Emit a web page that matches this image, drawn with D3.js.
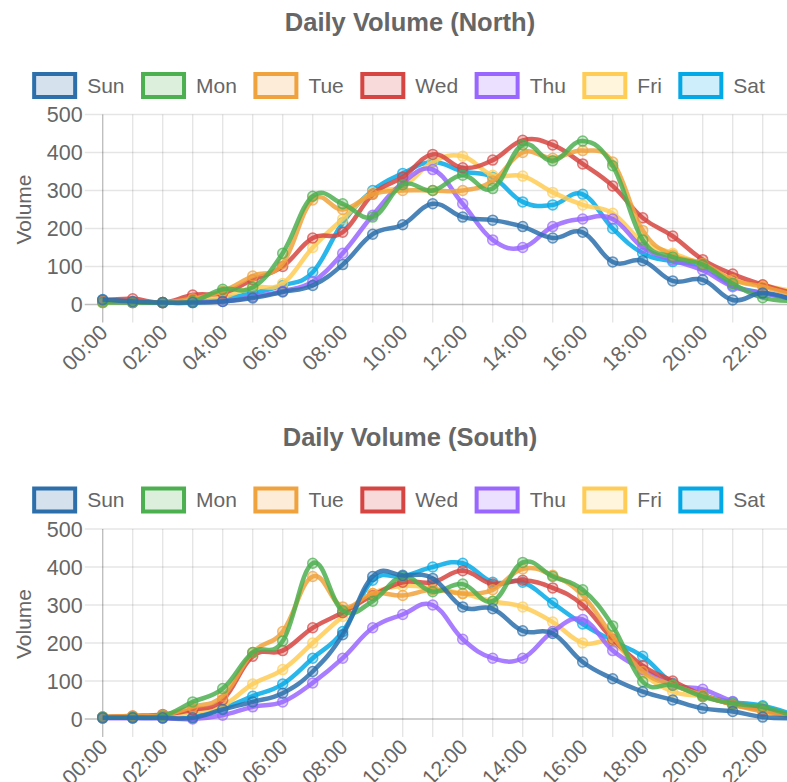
<!DOCTYPE html>
<html>
<head>
<meta charset="utf-8">
<script src="https://cdn.jsdelivr.net/npm/d3@7"></script>
<style>
  html, body { margin: 0; padding: 0; background: #fff; overflow: hidden; }
  text { font-family: "Liberation Sans", Arial, sans-serif; fill: #666; }
</style>
</head>
<body>
<div id="viz"></div>
<script>
// hour labels on the x axis
var hours = ["00:00","01:00","02:00","03:00","04:00","05:00","06:00","07:00","08:00","09:00","10:00","11:00",
             "12:00","13:00","14:00","15:00","16:00","17:00","18:00","19:00","20:00","21:00","22:00","23:00"];
var days = ["Sun", "Mon", "Tue", "Wed", "Thu", "Fri", "Sat"];
var dayColors = ["#2c6fab", "#4caf50", "#f0a23c", "#d64541", "#9966ff", "#ffcd56", "#03a9e6"];
var yTicks = [0, 100, 200, 300, 400, 500];

// North
var northSun = [13, 8, 5, 5, 8, 17, 33, 50, 105, 185, 210, 265, 230, 222, 205, 175, 190, 112, 115, 62, 65, 12, 30, 12];
var northMon = [5, 5, 5, 8, 40, 45, 135, 285, 265, 230, 315, 300, 340, 305, 420, 378, 430, 365, 170, 125, 105, 55, 18, 10];
var northTue = [8, 6, 5, 15, 35, 75, 108, 275, 250, 290, 300, 300, 300, 325, 400, 385, 405, 375, 195, 130, 108, 65, 47, 25];
var northWed = [10, 15, 5, 25, 30, 65, 100, 175, 190, 290, 335, 395, 360, 380, 432, 420, 370, 312, 228, 180, 118, 80, 52, 30];
var northThu = [8, 5, 5, 8, 8, 20, 35, 60, 135, 235, 320, 355, 265, 170, 150, 205, 225, 225, 150, 117, 90, 47, 30, 15];
var northFri = [5, 5, 5, 8, 20, 45, 55, 150, 225, 295, 310, 375, 390, 340, 338, 295, 262, 240, 165, 135, 104, 65, 51, 35];
var northSat = [12, 6, 5, 5, 15, 30, 50, 85, 215, 300, 345, 375, 350, 335, 270, 262, 290, 200, 135, 113, 100, 50, 31, 15];

// South
var southSun = [3, 3, 3, 3, 25, 45, 68, 125, 222, 375, 378, 370, 295, 290, 232, 225, 150, 106, 72, 50, 28, 20, 5, 2];
var southMon = [5, 5, 8, 45, 80, 175, 205, 410, 285, 310, 375, 335, 355, 310, 412, 375, 340, 245, 98, 89, 59, 41, 32, 8];
var southTue = [5, 8, 10, 32, 60, 175, 230, 375, 295, 330, 325, 340, 330, 340, 395, 378, 325, 218, 125, 89, 63, 38, 20, 6];
var southWed = [5, 8, 12, 24, 50, 165, 180, 240, 280, 325, 360, 360, 390, 355, 365, 345, 300, 210, 140, 100, 63, 38, 24, 8];
var southThu = [2, 2, 2, 0, 10, 32, 45, 95, 160, 240, 275, 300, 210, 160, 160, 230, 262, 180, 130, 89, 78, 46, 24, 6];
var southFri = [5, 5, 5, 19, 35, 92, 130, 200, 270, 330, 350, 344, 330, 310, 295, 255, 200, 200, 120, 72, 59, 38, 20, 6];
var southSat = [3, 3, 3, 5, 28, 60, 92, 160, 230, 365, 375, 400, 410, 360, 360, 305, 250, 205, 165, 94, 63, 45, 35, 12];

var svg = d3.select("#viz").append("svg").attr("width", 820).attr("height", 782);

var x = d3.scalePoint().domain(hours).range([102.7, 792.7]);
var tickLen = 18;

function drawPanel(top, title, series, clipId) {
  var g = svg.append("g").attr("transform", "translate(0," + top + ")");
  var y = d3.scaleLinear().domain([0, 500]).range([304.5, 114.5]);

  g.append("text").attr("x", 410).attr("y", 31)
    .attr("text-anchor", "middle").style("font-size", "25.5px").style("font-weight", "bold")
    .text(title);

  // legend
  var leg = g.append("g");
  var items = leg.selectAll("g").data(days).enter().append("g");
  items.append("rect").attr("x", 2).attr("y", -11.5).attr("width", 41).attr("height", 23)
    .attr("fill", function(d, i) { return dayColors[i]; }).attr("fill-opacity", 0.2)
    .attr("stroke", function(d, i) { return dayColors[i]; }).attr("stroke-width", 4);
  items.append("text").attr("x", 55).attr("y", 0).attr("dy", "0.35em")
    .style("font-size", "21px").text(function(d) { return d; });
  var pos = 0, offs = [];
  items.each(function() {
    offs.push(pos);
    pos += 55 + this.querySelector("text").getComputedTextLength() + 16.5;
  });
  var total = pos - 16.5;
  var lx = 398.5 - total / 2;
  items.attr("transform", function(d, i) { return "translate(" + (lx + offs[i]) + ",85.5)"; });

  // grid
  g.append("g").selectAll("line").data(yTicks).enter().append("line")
    .attr("x1", x(hours[0]) - tickLen).attr("x2", 820)
    .attr("y1", function(d) { return y(d); }).attr("y2", function(d) { return y(d); })
    .attr("stroke", function(d) { return d === 0 ? "rgba(0,0,0,0.25)" : "rgba(0,0,0,0.1)"; })
    .attr("stroke-width", 1.4);
  g.append("g").selectAll("line").data(hours).enter().append("line")
    .attr("x1", function(d) { return x(d); }).attr("x2", function(d) { return x(d); })
    .attr("y1", y(500)).attr("y2", y(0) + tickLen)
    .attr("stroke", function(d, i) { return i === 0 ? "rgba(0,0,0,0.25)" : "rgba(0,0,0,0.1)"; })
    .attr("stroke-width", 1.4);

  // y tick labels
  g.append("g").selectAll("text").data(yTicks).enter().append("text")
    .attr("x", x(hours[0]) - tickLen - 2).attr("y", function(d) { return y(d); })
    .attr("dy", "0.35em").attr("text-anchor", "end").style("font-size", "21.5px")
    .text(function(d) { return d; });

  // x tick labels, every second hour
  g.append("g").selectAll("text").data(hours.filter(function(d, i) { return i % 2 === 0; }))
    .enter().append("text")
    .attr("transform", function(d) { return "translate(" + (x(d) + 1) + "," + (y(0) + 24) + ") rotate(-45)"; })
    .attr("text-anchor", "end").attr("dy", "0.35em").style("font-size", "21.5px")
    .text(function(d) { return d; });

  g.append("text").attr("transform", "translate(31,209.5) rotate(-90)")
    .attr("text-anchor", "middle").style("font-size", "21px").text("Volume");

  g.append("clipPath").attr("id", clipId).append("rect")
    .attr("x", x(hours[0]) - 8).attr("y", y(500) - 8).attr("width", 720).attr("height", 205);

  var line = d3.line()
    .x(function(d, i) { return x(hours[i]); })
    .y(function(d) { return y(d); })
    .curve(d3.curveCardinal.tension(-0.2));

  var plot = g.append("g").attr("clip-path", "url(#" + clipId + ")");
  // last dataset drawn first so Sun ends up on top
  for (var k = series.length - 1; k >= 0; k--) {
    var c = dayColors[k];
    plot.append("path").datum(series[k]).attr("d", line)
      .attr("fill", "none").attr("stroke", c).attr("stroke-width", 4.5)
      .attr("stroke-opacity", 0.85).attr("stroke-linejoin", "round");
    plot.append("g").selectAll("circle").data(series[k]).enter().append("circle")
      .attr("cx", function(d, i) { return x(hours[i]); })
      .attr("cy", function(d) { return y(d); })
      .attr("r", 5)
      .attr("fill", c).attr("fill-opacity", 0.3)
      .attr("stroke", c).attr("stroke-opacity", 0.7).attr("stroke-width", 1.5);
  }
}

drawPanel(0, "Daily Volume (North)", [northSun, northMon, northTue, northWed, northThu, northFri, northSat], "clipN");
drawPanel(414.5, "Daily Volume (South)", [southSun, southMon, southTue, southWed, southThu, southFri, southSat], "clipS");
</script>
</body>
</html>
